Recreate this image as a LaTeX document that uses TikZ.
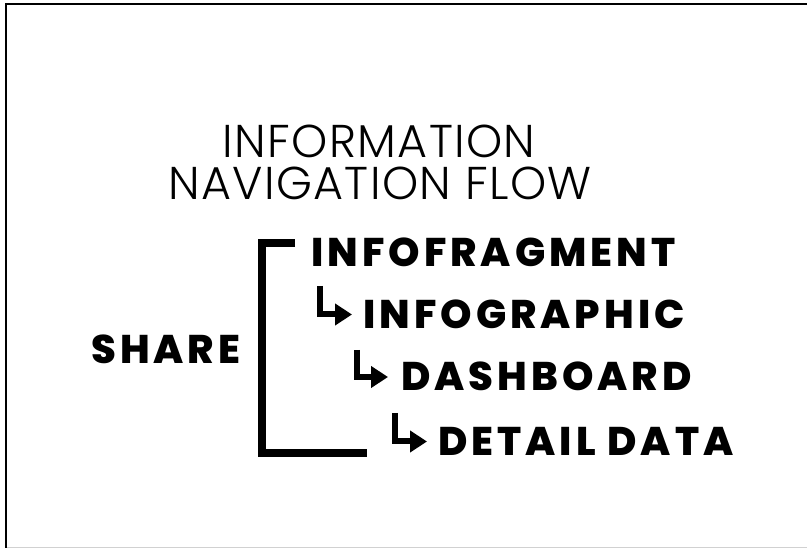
\documentclass[tikz,border=0pt]{standalone}
\usepackage{fontspec}
\usetikzlibrary{arrows.meta}
\IfFontExistsTF{Poppins Light}
  {\newfontfamily\titlefont{Poppins Light}[LetterSpace=3]}
  {\newfontfamily\titlefont{Poppins}[LetterSpace=3]}
\IfFontExistsTF{Poppins ExtraBold}
  {\newfontfamily\heavyfont{Poppins ExtraBold}[LetterSpace=10]}
  {\newfontfamily\heavyfont{Poppins}[UprightFont=* Bold, LetterSpace=10]}
\tikzset{
  title/.style={font=\titlefont\fontsize{46}{46}\selectfont, inner sep=0pt, anchor=base},
  item/.style={font=\heavyfont\fontsize{40}{40}\selectfont, text height=28pt, text depth=0pt,
               inner sep=0pt, anchor=west},
  flow/.style={line width=6pt, -{Triangle[length=17pt,width=21pt]}},
  bracket/.style={line width=8pt},
}
\begin{document}
\begin{tikzpicture}[x=1pt,y=-1pt]
  \useasboundingbox (0,0) rectangle (807,548);
  % frame
  \draw[line width=2.5pt] (6,548) -- (6,4) -- (807,4);
  \draw[black!18, line width=1pt] (7,547.5) -- (807,547.5);

  % heading
  \node[title] (t1) at (379,158) {INFORMATION};
  \node[title] (t2) at (380,200) {NAVIGATION FLOW};

  % levels
  \node[item] (frag)   at (311,252.5) {INFOFRAGMENT};
  \node[item] (graph)  at (363,314.5) {INFOGRAPHIC};
  \node[item] (dash)   at (401,377)   {DASHBOARD};
  \node[item] (detail) at (438,441.5) {DETAIL DATA};
  \node[item] (share)  at (91,350)    {SHARE};

  % bracket grouping the levels
  \coordinate (btop) at (295,243.5);
  \coordinate (bbot) at (367,452.5);
  \draw[bracket] (btop) -- (262,243.5) -- (262,452.5) -- (bbot);

  % drill-down arrows
  \coordinate (s1) at (320,286);
  \coordinate (s2) at (357,350);
  \coordinate (s3) at (395,413);
  \draw[flow] (s1) |- ([xshift=-11pt]graph.west);
  \draw[flow] (s2) |- ([xshift=-13pt]dash.west);
  \draw[flow] (s3) |- ([xshift=-11pt]detail.west);
\end{tikzpicture}
\end{document}
